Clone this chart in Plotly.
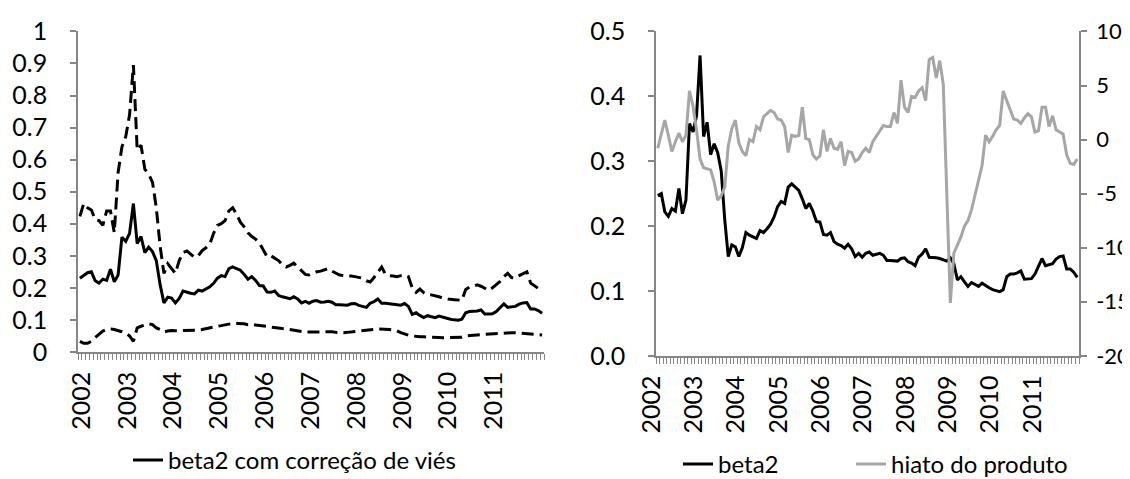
import plotly.graph_objects as go

# ---------------- data ----------------
anos = ["2002", "2003", "2004", "2005", "2006", "2007", "2008", "2009", "2010", "2011"]
ticks_hiato = [-20, -15, -10, -5, 0, 5, 10]
ticks_hiato_txt = ["-20", "-15", "-10", "-5", "0", "5", "10"]

# right panel: monthly Jan-2002 .. Dec-2011
beta2 = [
    0.247, 0.250, 0.222, 0.215, 0.227, 0.223, 0.258, 0.219, 0.240, 0.358,
    0.345, 0.370, 0.463, 0.338, 0.360, 0.310, 0.327, 0.313, 0.285, 0.210,
    0.153, 0.171, 0.168, 0.153, 0.167, 0.190, 0.186, 0.183, 0.181, 0.193,
    0.190, 0.196, 0.203, 0.214, 0.230, 0.238, 0.235, 0.260, 0.265, 0.260,
    0.255, 0.242, 0.227, 0.235, 0.223, 0.207, 0.206, 0.187, 0.186, 0.190,
    0.176, 0.172, 0.170, 0.166, 0.172, 0.165, 0.153, 0.158, 0.152, 0.158,
    0.160, 0.155, 0.156, 0.158, 0.155, 0.147, 0.147, 0.146, 0.146, 0.150,
    0.151, 0.145, 0.143, 0.139, 0.152, 0.157, 0.165, 0.152, 0.152, 0.151,
    0.150, 0.148, 0.146, 0.151, 0.142, 0.117, 0.122, 0.114, 0.107, 0.113,
    0.110, 0.107, 0.112, 0.108, 0.105, 0.102, 0.100, 0.099, 0.102, 0.122,
    0.126, 0.126, 0.128, 0.131, 0.118, 0.118, 0.119, 0.126, 0.138, 0.150,
    0.139, 0.141, 0.142, 0.149, 0.153, 0.154, 0.134, 0.134, 0.129, 0.121,
]
hiato_produto = [
    -0.8, 0.4, 1.8, 0.4, -1.1, -0.2, 0.6, -0.2, 0.4, 4.5,
    3.1, 0.9, -1.8, -2.6, -2.7, -2.8, -3.9, -5.6, -5.2, -4.4,
    -0.6, 1.0, 1.8, -0.3, -1.1, -1.5, 0.0, -0.2, 1.2, 0.9,
    2.1, 2.4, 2.7, 2.5, 1.9, 1.8, 1.2, -1.2, 0.4, 0.3,
    0.4, 3.0, 0.1, 0.0, -1.4, -1.8, -1.5, 0.9, -1.1, 0.1,
    -0.8, -0.9, -0.2, -2.4, -1.1, -1.2, -2.0, -1.8, -1.2, -0.8,
    -1.2, -0.2, 0.3, 0.8, 1.3, 1.2, 1.2, 2.5, 1.5, 5.5,
    3.0, 2.5, 4.0, 3.9, 4.5, 4.8, 3.6, 7.4, 7.6, 5.7,
    7.3, 5.1, -5.0, -15.1, -10.5, -9.7, -9.0, -8.0, -7.5, -6.5,
    -5.1, -3.6, -2.4, 0.4, -0.2, 0.3, 0.9, 1.3, 4.5, 3.6,
    2.7, 1.9, 1.8, 1.5, 2.0, 2.4, 2.1, 0.7, 0.8, 3.0,
    3.0, 1.2, 2.2, 0.9, 0.7, 0.5, -1.4, -2.2, -2.3, -1.8,
]

# left panel: monthly Nov-2001 .. Dec-2011
beta2_vies = [
    0.230, 0.240,
    0.247, 0.250, 0.222, 0.215, 0.227, 0.223, 0.258, 0.219, 0.240, 0.358,
    0.345, 0.370, 0.463, 0.338, 0.360, 0.310, 0.327, 0.313, 0.285, 0.210,
    0.153, 0.171, 0.168, 0.153, 0.167, 0.190, 0.186, 0.183, 0.181, 0.193,
    0.190, 0.196, 0.203, 0.214, 0.230, 0.238, 0.235, 0.260, 0.265, 0.260,
    0.255, 0.242, 0.227, 0.235, 0.223, 0.207, 0.206, 0.187, 0.186, 0.190,
    0.176, 0.172, 0.170, 0.166, 0.172, 0.165, 0.153, 0.158, 0.152, 0.158,
    0.160, 0.155, 0.156, 0.158, 0.155, 0.147, 0.147, 0.146, 0.146, 0.150,
    0.151, 0.145, 0.143, 0.139, 0.152, 0.157, 0.165, 0.152, 0.152, 0.151,
    0.150, 0.148, 0.146, 0.151, 0.142, 0.117, 0.122, 0.114, 0.107, 0.113,
    0.110, 0.107, 0.112, 0.108, 0.105, 0.102, 0.100, 0.099, 0.102, 0.122,
    0.126, 0.126, 0.128, 0.131, 0.118, 0.118, 0.119, 0.126, 0.138, 0.150,
    0.139, 0.141, 0.142, 0.149, 0.153, 0.154, 0.134, 0.134, 0.129, 0.121,
]
banda_superior = [
    0.423, 0.463, 0.450, 0.443, 0.413, 0.410, 0.395, 0.440, 0.440, 0.372,
    0.560, 0.640, 0.672, 0.740, 0.895, 0.630, 0.645, 0.570, 0.555, 0.530,
    0.450, 0.330, 0.245, 0.275, 0.260, 0.245, 0.285, 0.310, 0.315, 0.305,
    0.295, 0.300, 0.316, 0.325, 0.336, 0.370, 0.395, 0.400, 0.410, 0.440,
    0.450, 0.430, 0.405, 0.390, 0.372, 0.360, 0.352, 0.340, 0.320, 0.297,
    0.300, 0.293, 0.285, 0.272, 0.265, 0.270, 0.277, 0.265, 0.255, 0.242,
    0.240, 0.245, 0.250, 0.252, 0.255, 0.260, 0.252, 0.245, 0.240, 0.238,
    0.238, 0.237, 0.235, 0.232, 0.230, 0.222, 0.218, 0.232, 0.250, 0.265,
    0.242, 0.238, 0.237, 0.235, 0.238, 0.240, 0.235, 0.200, 0.186, 0.196,
    0.185, 0.179, 0.178, 0.176, 0.172, 0.168, 0.165, 0.164, 0.163, 0.162,
    0.161, 0.195, 0.202, 0.205, 0.209, 0.205, 0.198, 0.192, 0.200, 0.209,
    0.220, 0.235, 0.245, 0.232, 0.230, 0.238, 0.245, 0.250, 0.215, 0.205,
    0.198, 0.194,
]
banda_inferior = [
    0.033, 0.027, 0.027, 0.033, 0.045, 0.055, 0.065, 0.070, 0.072, 0.070,
    0.067, 0.063, 0.058, 0.050, 0.033, 0.075, 0.080, 0.085, 0.088, 0.085,
    0.075, 0.070, 0.062, 0.065, 0.067, 0.066, 0.066, 0.066, 0.066, 0.066,
    0.067, 0.068, 0.070, 0.073, 0.075, 0.078, 0.080, 0.082, 0.085, 0.088,
    0.089, 0.089, 0.089, 0.088, 0.085, 0.086, 0.084, 0.083, 0.082, 0.080,
    0.077, 0.075, 0.074, 0.073, 0.072, 0.070, 0.067, 0.064, 0.063, 0.062,
    0.062, 0.062, 0.062, 0.063, 0.064, 0.064, 0.063, 0.061, 0.060, 0.060,
    0.061, 0.062, 0.063, 0.065, 0.066, 0.067, 0.069, 0.070, 0.072, 0.072,
    0.071, 0.070, 0.068, 0.066, 0.060, 0.055, 0.052, 0.050, 0.048, 0.047,
    0.047, 0.047, 0.047, 0.046, 0.045, 0.044, 0.044, 0.044, 0.044, 0.044,
    0.046, 0.050, 0.052, 0.052, 0.053, 0.054, 0.055, 0.055, 0.056, 0.057,
    0.057, 0.058, 0.060, 0.060, 0.060, 0.059, 0.058, 0.057, 0.056, 0.055,
    0.054, 0.053,
]

# ---------------- layout helpers ----------------
W, H = 1130, 479
FONT = "Lato"
FS = 25
FS_LEG = 24
AX = "#868686"


def fx(px):
    return px / W


def fy(py):
    return 1 - py / H


n_esq = len(beta2_vies)
n_dir = len(beta2)
x_esq = list(range(n_esq))
x_dir = list(range(n_dir))
primeiro_jan_esq = n_esq - n_dir
tick_esq = [primeiro_jan_esq + 12 * k for k in range(len(anos))]
tick_dir = [12 * k for k in range(len(anos))]

fig = go.Figure()

dash = "12px,6px"
fig.add_trace(go.Scatter(x=x_esq, y=banda_superior, mode="lines", showlegend=False,
                         line=dict(color="black", width=3, dash=dash),
                         xaxis="x", yaxis="y", hoverinfo="skip"))
fig.add_trace(go.Scatter(x=x_esq, y=banda_inferior, mode="lines", showlegend=False,
                         line=dict(color="black", width=3, dash=dash),
                         xaxis="x", yaxis="y", hoverinfo="skip"))
fig.add_trace(go.Scatter(x=x_esq, y=beta2_vies, mode="lines", name="beta2 com correção de viés",
                         line=dict(color="black", width=3), xaxis="x", yaxis="y", legend="legend"))
fig.add_trace(go.Scatter(x=x_dir, y=beta2, mode="lines", name="beta2",
                         line=dict(color="black", width=3), xaxis="x2", yaxis="y2", legend="legend2"))
fig.add_trace(go.Scatter(x=x_dir, y=hiato_produto, mode="lines", name="hiato do produto",
                         line=dict(color="#A6A6A6", width=3), xaxis="x2", yaxis="y3", legend="legend3"))

tickfont = dict(family=FONT, size=FS, color="black")
xcommon = dict(showline=True, linecolor=AX, linewidth=1.5, showgrid=False, zeroline=False,
               tickmode="array", ticktext=anos, tickangle=-90, ticks="",
               ticklabelstandoff=8, ticklabelshift=-6, tickfont=tickfont, automargin=False,
               minor=dict(ticks="outside", tick0=-0.5, dtick=1, ticklen=6,
                          tickcolor=AX, tickwidth=1, showgrid=False))
ycommon = dict(showline=True, linecolor=AX, linewidth=1.5, showgrid=False, zeroline=False,
               ticks="outside", ticklen=6, tickcolor=AX, tickwidth=1.5,
               automargin=False)

legfont = dict(family=FONT, size=FS_LEG, color="black")
legcommon = dict(xanchor="left", yanchor="middle", orientation="h",
                 bgcolor="rgba(0,0,0,0)", font=legfont)

fig.update_layout(
    template="none",
    width=W, height=H,
    margin=dict(l=0, r=0, t=0, b=0),
    paper_bgcolor="white", plot_bgcolor="rgba(0,0,0,0)",
    font=dict(family=FONT, size=FS, color="black"),
    xaxis=dict(domain=[fx(70), fx(536)], range=[-0.5, n_esq - 0.5], anchor="y",
               tickvals=tick_esq, **xcommon),
    yaxis=dict(domain=[fy(352), fy(24)], range=[0, 1], dtick=0.1, tick0=0, anchor="x",
               ticklabelstandoff=18, tickfont=tickfont, **ycommon),
    xaxis2=dict(domain=[fx(648), fx(1071)], range=[-0.5, n_dir - 0.5], anchor="y2",
                tickvals=tick_dir, **xcommon),
    yaxis2=dict(domain=[fy(356), fy(24)], range=[0, 0.5], dtick=0.1, tick0=0,
                tickformat=".1f", anchor="x2", ticklabelstandoff=18, tickfont=tickfont,
                **ycommon),
    yaxis3=dict(range=[-20, 10], tickmode="array", tickvals=ticks_hiato,
                ticktext=ticks_hiato_txt, overlaying="y2", side="right",
                anchor="x2", ticklabelstandoff=5,
                tickfont=dict(family=FONT, size=22, color="black"), **ycommon),
    legend=dict(x=fx(120), y=fy(463), **legcommon),
    legend2=dict(x=fx(670), y=fy(467), **legcommon),
    legend3=dict(x=fx(843), y=fy(467), **legcommon),
    showlegend=True,
)

fig.write_html("out.html")
